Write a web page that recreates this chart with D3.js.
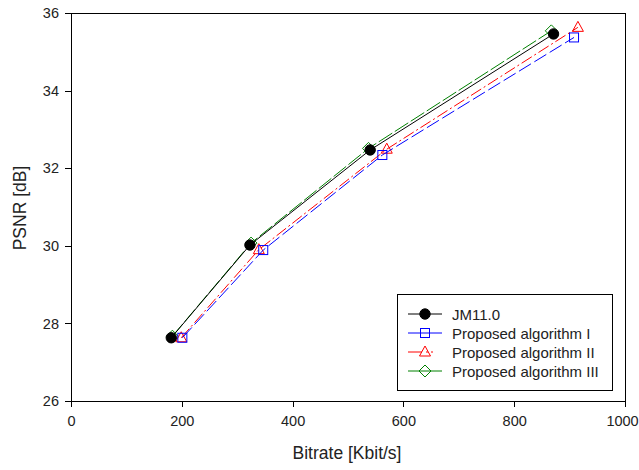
<!DOCTYPE html>
<html lang="en">
<head>
<meta charset="UTF-8">
<title>PSNR vs Bitrate</title>
<script src="https://cdnjs.cloudflare.com/ajax/libs/d3/7.8.5/d3.min.js"></script>
<style>
    body { margin: 0; background: white; }
    svg { font-family: 'Liberation Sans', Arial, sans-serif; }
    .axis path, .axis line { stroke: black; stroke-width: 1px; shape-rendering: crispEdges; }
    .axis text { font-size: 14.5px; fill: #222; }
</style>
</head>
<body>
<svg id="main" width="639" height="470"></svg>
<script>
    "use strict";

    // data
    const seriesNames = ["JM11.0", "Proposed algorithm I", "Proposed algorithm II", "Proposed algorithm III"];
    const jmBitrate = [181, 323, 540, 871];
    const jmPsnr = [27.63, 30.02, 32.47, 35.46];
    const alg1Bitrate = [201, 347, 562, 908];
    const alg1Psnr = [27.63, 29.89, 32.34, 35.37];
    const alg2Bitrate = [199, 339, 570, 915];
    const alg2Psnr = [27.63, 29.9, 32.49, 35.63];
    const alg3Bitrate = [183, 325, 537, 867];
    const alg3Psnr = [27.67, 30.07, 32.51, 35.54];
    const xTicks = [0, 200, 400, 600, 800, 1000];
    const yTicks = [26, 28, 30, 32, 34, 36];

    const series = [
        { name: seriesNames[0], xs: jmBitrate, ys: jmPsnr, color: "black", dash: null, marker: "circle" },
        { name: seriesNames[1], xs: alg1Bitrate, ys: alg1Psnr, color: "blue", dash: "14,4", marker: "square" },
        { name: seriesNames[2], xs: alg2Bitrate, ys: alg2Psnr, color: "red", dash: "12,3,2,3", marker: "triangle" },
        { name: seriesNames[3], xs: alg3Bitrate, ys: alg3Psnr, color: "green", dash: "16,3", marker: "diamond" }
    ];

    const plotLeft = 71, plotRight = 625, plotTop = 13, plotBottom = 401;

    const x = d3.scaleLinear().domain([0, 1000]).range([plotLeft, plotRight]);
    const y = d3.scaleLinear().domain([26, 36]).range([plotBottom, plotTop]);

    const svg = d3.select("svg#main");

    // frame
    svg.append("rect")
        .attr("x", plotLeft).attr("y", plotTop)
        .attr("width", plotRight - plotLeft).attr("height", plotBottom - plotTop)
        .attr("fill", "none").attr("stroke", "black")
        .attr("shape-rendering", "crispEdges");

    const xAxis = svg.append("g")
        .attr("class", "axis")
        .attr("transform", "translate(0," + plotBottom + ")")
        .call(d3.axisBottom(x).tickValues(xTicks).tickFormat(d3.format("d"))
            .tickSize(6).tickSizeOuter(0).tickPadding(9));

    // last label sits right at the page edge, pull it in a little
    xAxis.selectAll(".tick text").filter(d => d === 1000).attr("dx", -3);

    svg.append("g")
        .attr("class", "axis")
        .attr("transform", "translate(" + plotLeft + ",0)")
        .call(d3.axisLeft(y).tickValues(yTicks).tickSize(6).tickSizeOuter(0).tickPadding(6));

    svg.append("text")
        .attr("x", (plotLeft + plotRight) / 2 - 1).attr("y", 459)
        .attr("text-anchor", "middle")
        .attr("font-size", "17.5px").attr("fill", "#222")
        .text("Bitrate [Kbit/s]");

    svg.append("text")
        .attr("transform", "translate(26," + ((plotTop + plotBottom) / 2 + 1) + ") rotate(-90)")
        .attr("text-anchor", "middle")
        .attr("font-size", "17.5px").attr("fill", "#222")
        .text("PSNR [dB]");

    function drawMarker(g, type, color) {
        if (type === "circle") {
            g.append("circle").attr("r", 5.2).attr("fill", "black").attr("stroke", "black");
        } else if (type === "square") {
            g.append("rect").attr("x", -4.5).attr("y", -4.5).attr("width", 9).attr("height", 9)
                .attr("fill", "none").attr("stroke", color);
        } else if (type === "triangle") {
            g.append("path").attr("d", "M0,-6L5.5,4L-5.5,4Z")
                .attr("fill", "none").attr("stroke", color);
        } else {
            g.append("path").attr("d", "M0,-6L6,0L0,6L-6,0Z")
                .attr("fill", "none").attr("stroke", color);
        }
    }

    const line = d3.line().x(d => x(d[0])).y(d => y(d[1]));

    // draw back to front so black ends up on top like the reference
    series.slice().reverse().forEach(s => {
        const pts = s.xs.map((v, i) => [v, s.ys[i]]);
        svg.append("path")
            .datum(pts)
            .attr("d", line)
            .attr("fill", "none")
            .attr("stroke", s.color)
            .attr("stroke-width", 1)
            .attr("stroke-dasharray", s.dash);
        pts.forEach(p => {
            const g = svg.append("g").attr("transform", "translate(" + x(p[0]) + "," + y(p[1]) + ")");
            drawMarker(g, s.marker, s.color);
        });
    });

    // legend
    const legend = svg.append("g");
    legend.append("rect")
        .attr("x", 397).attr("y", 294).attr("width", 215).attr("height", 96)
        .attr("fill", "white").attr("stroke", "black")
        .attr("shape-rendering", "crispEdges");

    series.forEach((s, i) => {
        const ly = 314 + i * 19;
        legend.append("line")
            .attr("x1", 408).attr("x2", 442).attr("y1", ly).attr("y2", ly)
            .attr("stroke", s.color)
            .attr("stroke-dasharray", i === 2 ? "14,4,2,3,2" : null);
        drawMarker(legend.append("g").attr("transform", "translate(425," + ly + ")"), s.marker, s.color);
        legend.append("text")
            .attr("x", 452).attr("y", ly + 5.5)
            .attr("font-size", "15px").attr("fill", "#222")
            .text(s.name);
    });
</script>
</body>
</html>
